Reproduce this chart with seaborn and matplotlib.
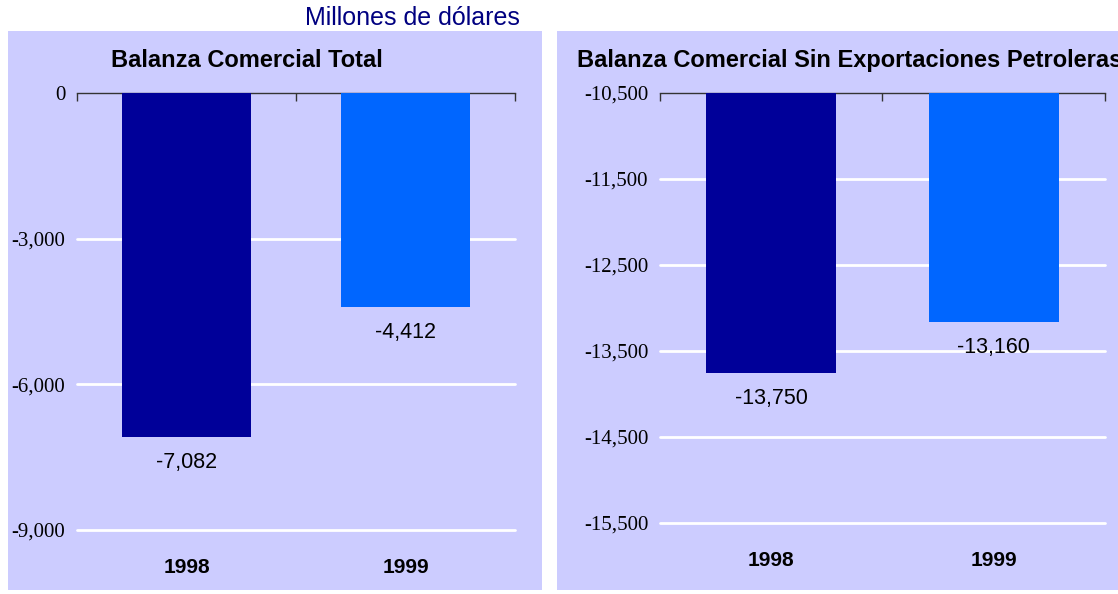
import matplotlib
matplotlib.use("Agg")
import matplotlib.pyplot as plt
from matplotlib.patches import Rectangle
import seaborn as sns
import pandas as pd

years = ["1998", "1999"]
total_balance = [-7082, -4412]
non_oil_balance = [-13750, -13160]
total_ticks = [0, -3000, -6000, -9000]
non_oil_ticks = [-10500, -11500, -12500, -13500, -14500, -15500]
bar_colors = ["#000099", "#0066FF"]

bg = "#CCCCFF"
sns.set_theme(style="white")
plt.rcParams["font.family"] = ["Liberation Sans", "DejaVu Sans"]

fig = plt.figure(figsize=(11.18, 5.94), dpi=100)

# lavender panels behind each chart
fig.patches.append(Rectangle((0.0072, 0.0067), 0.4776, 0.941, transform=fig.transFigure,
                             facecolor=bg, edgecolor="none", zorder=-5))
fig.patches.append(Rectangle((0.4982, 0.0067), 0.5018, 0.941, transform=fig.transFigure,
                             facecolor=bg, edgecolor="none", zorder=-5))

fig.text(0.369, 0.970, "Millones de dólares", ha="center", va="center",
         fontsize=18, color="#000080")


def draw_panel(rect, values, ticks, title, title_x, title_ha):
    ax = fig.add_axes(rect)
    ax.set_facecolor(bg)
    df = pd.DataFrame({"year": years, "value": values})
    sns.barplot(data=df, x="year", y="value", hue="year", palette=bar_colors,
                width=0.585, legend=False, ax=ax, zorder=3, saturation=1,
                linewidth=0, edgecolor="none")
    ax.set_ylim(ticks[-1], ticks[0])
    ax.set_xlim(-0.5, 1.5)
    ax.set_yticks(ticks)
    ax.set_yticklabels([f"{t:,}" for t in ticks], fontfamily="Liberation Serif",
                       fontsize=15, color="black")
    ax.tick_params(axis="y", length=0, pad=8.5)
    for t in ticks[1:]:
        ax.axhline(t, color="white", lw=2, zorder=1, clip_on=False)
    ax.set_xticks([0, 1])
    ax.set_xticklabels(years, fontweight="bold", fontsize=15, color="black")
    ax.tick_params(axis="x", which="major", length=0, pad=20)
    ax.set_xticks([-0.5, 0.5, 1.5], minor=True)
    ax.tick_params(axis="x", which="minor", bottom=False, top=True, direction="in",
                   length=6, width=1, color="#333333")
    for s in ["left", "right", "bottom"]:
        ax.spines[s].set_visible(False)
    ax.spines["top"].set_color("#333333")
    ax.spines["top"].set_linewidth(1)
    ax.set_xlabel("")
    ax.set_ylabel("")
    for i, v in enumerate(values):
        ax.annotate(f"{v:,}", (i, v), xytext=(0, -18.5), textcoords="offset points",
                    ha="center", va="center", fontsize=15.5, color="black", zorder=4)
    fig.text(title_x, 0.898, title, ha=title_ha, va="center", fontsize=17,
             fontweight="bold", color="black")
    return ax


draw_panel([0.0689, 0.1077, 0.3918, 0.7357], total_balance, total_ticks,
           "Balanza Comercial Total", 0.221, "center")
draw_panel([0.5903, 0.1195, 0.3980, 0.7239], non_oil_balance, non_oil_ticks,
           "Balanza Comercial Sin Exportaciones Petroleras", 0.516, "left")

fig.savefig("out.png", dpi=100, facecolor="white")
